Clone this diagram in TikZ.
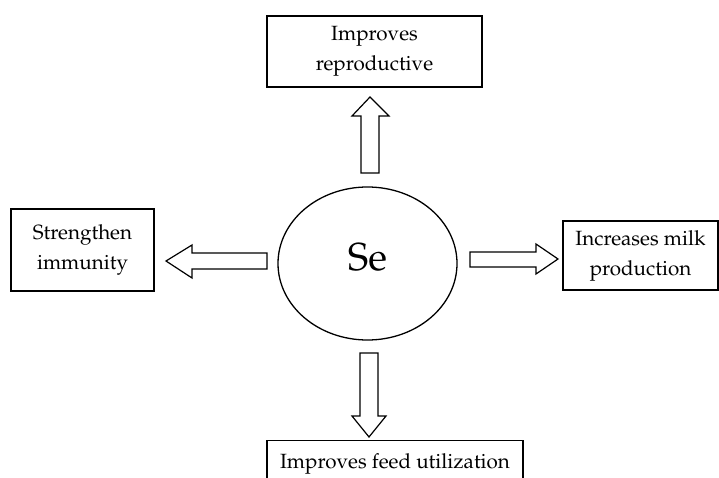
\documentclass[tikz,border=0pt]{standalone}
\usepackage[T1]{fontenc}
\usepackage{mathpazo}
\usetikzlibrary{shapes.geometric}
\tikzset{
  box/.style={draw, line width=1.3pt, inner sep=0pt, align=center,
              font=\fontsize{20.6}{30}\selectfont},
  blockarr/.style={draw, line width=1.2pt, fill=white, line join=miter},
}
\begin{document}
\begin{tikzpicture}[x=1pt, y=-1pt]
\useasboundingbox (0,0) rectangle (719,478);
\clip (0,0) rectangle (719,478);
% central ellipse
\node[ellipse, draw, line width=1.3pt, minimum width=179pt, minimum height=153pt, inner sep=0pt]
  (se) at (367.5,263.5) {};
\node[font=\fontsize{39}{40}\selectfont] (setext) at (367.5,257) {Se};
% boxes
\node[box, minimum width=215pt, minimum height=71pt] (top) at (374.5,51.5) {Improves\\reproductive};
\node[box, minimum width=143pt, minimum height=82pt] (left) at (82.5,250) {Strengthen\\immunity};
\node[box, minimum width=155pt, minimum height=69pt] (right) at (640.5,255.5) {Increases milk\\production};
\node[box, anchor=north, minimum width=256pt, minimum height=46pt] (bottom) at (395,440) {Improves feed utilization};
% block arrows
\coordinate (uptip) at (370,97);
\draw[blockarr] (361,173) -- (361,116) -- (352,116) -- (uptip) -- (389,116) -- (379,116) -- (379,173) -- cycle;
\coordinate (dntip) at (369,437);
\draw[blockarr] (360,353) -- (360,416) -- (352,416) -- (dntip) -- (386,416) -- (378,416) -- (378,353) -- cycle;
\coordinate (lftip) at (166,261);
\draw[blockarr] (267,253) -- (192,253) -- (192,245) -- (lftip) -- (192,278) -- (192,269) -- (267,269) -- cycle;
\coordinate (rttip) at (558,259);
\draw[blockarr] (470,252) -- (536,252) -- (536,244) -- (rttip) -- (536,274) -- (536,267) -- (470,267) -- cycle;
\end{tikzpicture}
\end{document}
